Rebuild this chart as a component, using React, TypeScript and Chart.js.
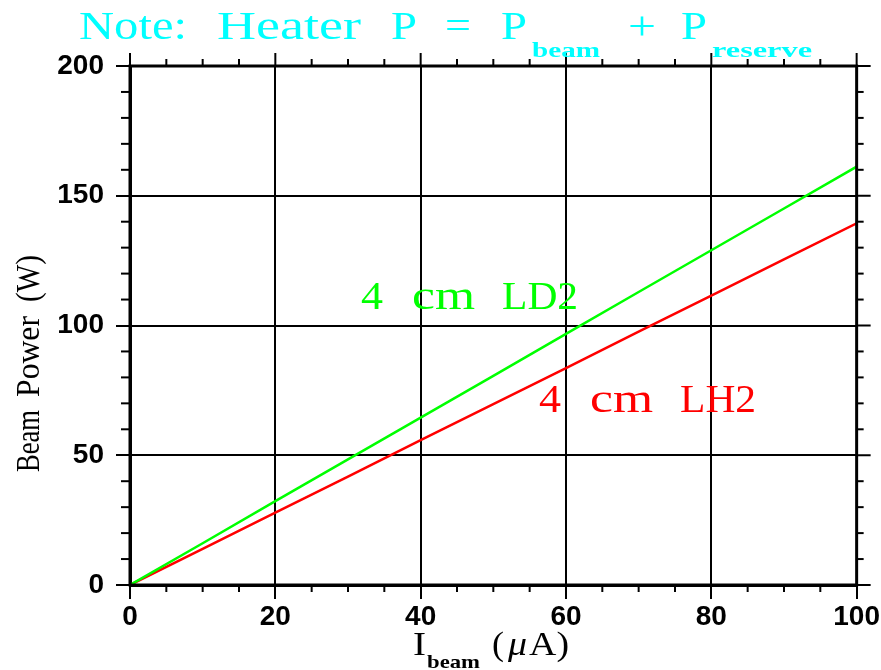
import React, { useEffect, useRef } from "react";
import { Chart, registerables } from "chart.js";

Chart.register(...registerables);

// ---- data ----
const currentUA = [0, 10, 20, 30, 40, 50, 60, 70, 80, 90, 100];
const ld2Power = [0, 16.1, 32.3, 48.4, 64.5, 80.6, 96.8, 112.9, 129.0, 145.1, 161.2];
const lh2Power = [0, 13.9, 27.9, 41.8, 55.8, 69.7, 83.6, 97.6, 111.5, 125.5, 139.4];
const xTickValues = [0, 20, 40, 60, 80, 100];
const yTickValues = [0, 50, 100, 150, 200];
const ld2Label = ["4", "cm", "LD2"];
const lh2Label = ["4", "cm", "LH2"];

const SERIF = '"Liberation Serif", "DejaVu Serif", serif';

// draw text stretched horizontally to a given width
function fitText(ctx: CanvasRenderingContext2D, text: string, x: number, y: number, width: number) {
  const w = ctx.measureText(text).width;
  ctx.save();
  ctx.translate(x, y);
  ctx.scale(width / w, 1);
  ctx.fillText(text, 0, 0);
  ctx.restore();
}

const decor = {
  id: "decor",
  afterDraw(chart: any) {
    const { ctx, chartArea: a, scales } = chart;
    const xs = scales.x;
    const ys = scales.y;
    ctx.save();
    ctx.strokeStyle = "#000";
    ctx.lineWidth = 2;
    const seg = (x1: number, y1: number, x2: number, y2: number) => {
      ctx.beginPath();
      ctx.moveTo(x1, y1);
      ctx.lineTo(x2, y2);
      ctx.stroke();
    };
    for (let v = 0; v <= 100; v += 5) {
      const px = xs.getPixelForValue(v);
      if (v % 20 !== 0) {
        seg(px, a.bottom, px, a.bottom + 7);
        seg(px, a.top, px, a.top - 7);
      } else {
        seg(px, a.top, px, a.top - 13);
      }
    }
    for (let v = 0; v <= 200; v += 10) {
      const py = ys.getPixelForValue(v);
      if (v % 50 !== 0) {
        seg(a.left - 9, py, a.left, py);
        seg(a.right, py, a.right + 7, py);
      } else {
        seg(a.right, py, a.right + 14, py);
      }
    }
    ctx.lineWidth = 3;
    ctx.strokeRect(a.left, a.top, a.right - a.left, a.bottom - a.top);

    // title
    ctx.fillStyle = "#00ffff";
    ctx.textBaseline = "alphabetic";
    ctx.textAlign = "left";
    ctx.font = "41px " + SERIF;
    fitText(ctx, "Note:", 79, 39, 108);
    fitText(ctx, "Heater", 217, 39, 144);
    fitText(ctx, "P", 391, 39, 26);
    fitText(ctx, "=", 445, 39, 26);
    fitText(ctx, "P", 501, 39, 26);
    fitText(ctx, "+", 628, 39, 28);
    fitText(ctx, "P", 681, 39, 26);
    ctx.font = "bold 22px " + SERIF;
    fitText(ctx, "beam", 532, 57, 68);
    fitText(ctx, "reserve", 712, 57, 100);

    // in-plot labels
    ctx.font = "41px " + SERIF;
    const offs = [0, 51, 141];
    const widths = [22, 63, 76];
    ctx.fillStyle = "#00ff00";
    let bx = xs.getPixelForValue(31.8);
    let by = ys.getPixelForValue(106.4);
    ld2Label.forEach((t, i) => fitText(ctx, t, bx + offs[i], by, widths[i]));
    ctx.fillStyle = "#ff0000";
    bx = xs.getPixelForValue(56.3);
    by = ys.getPixelForValue(66.7);
    lh2Label.forEach((t, i) => fitText(ctx, t, bx + offs[i], by, widths[i]));

    // y axis title
    ctx.fillStyle = "#000";
    ctx.save();
    ctx.translate(39, 0);
    ctx.rotate(-Math.PI / 2);
    ctx.font = "34px " + SERIF;
    fitText(ctx, "Beam", -472, 0, 62);
    fitText(ctx, "Power", -397, 0, 81);
    fitText(ctx, "(W)", -302, 0, 47);
    ctx.restore();

    // x axis title
    ctx.font = "33px " + SERIF;
    fitText(ctx, "I", 413, 655, 13);
    ctx.font = "bold 19px " + SERIF;
    fitText(ctx, "beam", 427, 668, 53);
    ctx.font = "33px " + SERIF;
    fitText(ctx, "(", 492, 655, 12);
    ctx.font = "italic 33px " + SERIF;
    fitText(ctx, "\u03bc", 508, 655, 19);
    ctx.font = "33px " + SERIF;
    fitText(ctx, "A)", 529, 655, 40);
    ctx.restore();
  },
};

export default function App() {
  const ref = useRef<HTMLCanvasElement>(null);
  useEffect(() => {
    if (!ref.current) return;
    const tickFont = { family: '"Liberation Sans", Arial, sans-serif', weight: "bold" as const, size: 28 };
    const chart = new Chart(ref.current, {
      type: "line",
      data: {
        datasets: [
          {
            label: "4 cm LD2",
            data: currentUA.map((x, i) => ({ x, y: ld2Power[i] })),
            borderColor: "#00ff00",
            borderWidth: 2.5,
            pointRadius: 0,
            tension: 0,
            fill: false,
          },
          {
            label: "4 cm LH2",
            data: currentUA.map((x, i) => ({ x, y: lh2Power[i] })),
            borderColor: "#ff0000",
            borderWidth: 2.5,
            pointRadius: 0,
            tension: 0,
            fill: false,
          },
        ],
      },
      options: {
        responsive: false,
        animation: false,
        devicePixelRatio: 1,
        layout: { padding: { top: 66, right: 24, left: 0, bottom: 0 } },
        plugins: { legend: { display: false }, tooltip: { enabled: false }, title: { display: false } },
        scales: {
          x: {
            type: "linear",
            min: 0,
            max: 100,
            afterBuildTicks: (s: any) => {
              s.ticks = xTickValues.map((v) => ({ value: v }));
            },
            afterFit: (s: any) => {
              s.height = 85;
            },
            grid: { color: "#000", lineWidth: 2, tickLength: 14, drawTicks: true },
            border: { display: true, color: "#000", width: 3 },
            ticks: { color: "#000", font: tickFont, padding: 1, maxRotation: 0 },
          },
          y: {
            type: "linear",
            min: 0,
            max: 200,
            afterBuildTicks: (s: any) => {
              s.ticks = yTickValues.map((v) => ({ value: v }));
            },
            afterFit: (s: any) => {
              s.width = 130;
            },
            grid: { color: "#000", lineWidth: 2, tickLength: 14, drawTicks: true },
            border: { display: true, color: "#000", width: 3 },
            ticks: { color: "#000", font: tickFont, padding: 12 },
          },
        },
      },
      plugins: [decor],
    });
    return () => chart.destroy();
  }, []);
  return (
    <div style={{ position: "absolute", left: 0, top: 0, width: 881, height: 670, background: "#fff" }}>
      <canvas ref={ref} width={881} height={670} style={{ display: "block" }} />
    </div>
  );
}
